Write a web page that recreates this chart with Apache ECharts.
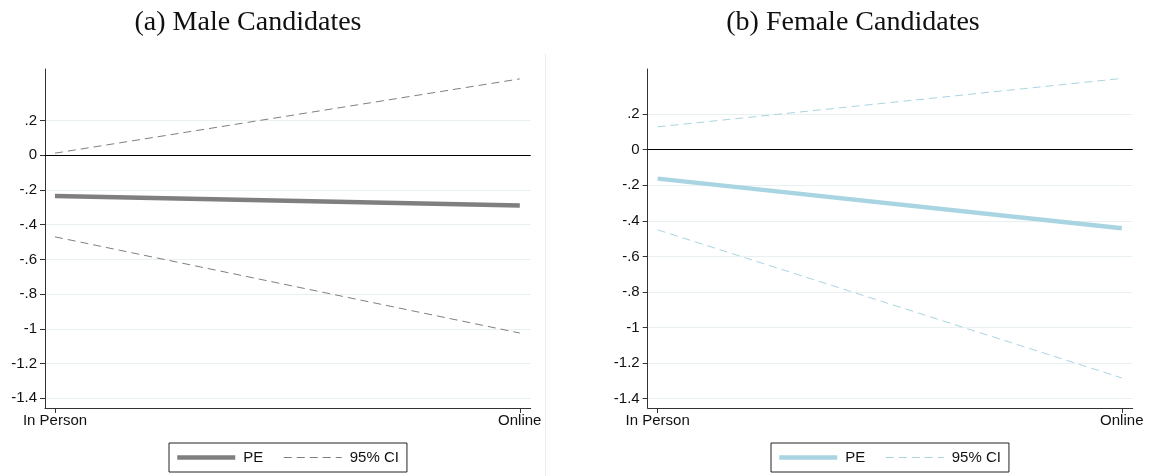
<!DOCTYPE html>
<html>
<head>
<meta charset="utf-8">
<script src="https://cdn.jsdelivr.net/npm/echarts@6/dist/echarts.min.js"></script>
<style>
html,body{margin:0;padding:0;background:#fff;}
#chart{width:1154px;height:476px;}
</style>
</head>
<body>
<div id="chart"></div>
<script>
// ---- data ----
const categories = ['In Person', 'Online'];
const yTicks = [0.2, 0, -0.2, -0.4, -0.6, -0.8, -1, -1.2, -1.4];
const panelTitles = ['(a) Male Candidates', '(b) Female Candidates'];

const malePE = [-0.235, -0.29];
const maleUpper = [0.012, 0.44];
const maleLower = [-0.47, -1.024];

const femalePE = [-0.163, -0.442];
const femaleUpper = [0.128, 0.40];
const femaleLower = [-0.451, -1.283];

// ---- styling ----
const grayCol = '#7f7f7f';
const blueCol = '#a8d5e1';
const tickFont = { fontFamily: 'Liberation Sans, Arial, sans-serif', fontSize: 15, color: '#111' };

function pts(arr) { return arr.map((v, i) => [i, v]); }
function yFmt(v) {
  const s = (Math.round(v * 10) / 10).toString();
  return s.replace(/^(-?)0\./, '$1.');
}

function xAxis(gi) {
  return {
    type: 'value', gridIndex: gi, min: -0.0215, max: 1.0235,
    axisLine: { show: true, onZero: false, lineStyle: { color: '#333', width: 1 } },
    axisTick: { show: true, length: 5, customValues: [0, 1], lineStyle: { color: '#333' } },
    axisLabel: { customValues: [0, 1], formatter: v => categories[Math.round(v)], margin: 5, ...tickFont },
    splitLine: { show: false }
  };
}
function yAxis(gi, min, max) {
  return {
    type: 'value', gridIndex: gi, min: min, max: max,
    axisLine: { show: true, onZero: false, lineStyle: { color: '#333', width: 1 } },
    axisTick: { show: true, length: 5, customValues: yTicks, lineStyle: { color: '#333' } },
    axisLabel: { customValues: yTicks, formatter: yFmt, margin: 8, ...tickFont },
    splitLine: { show: true, customValues: yTicks, lineStyle: { color: '#e9f0f2', width: 1 } }
  };
}

function panelSeries(gi, suffix, col, pe, up, lo) {
  return [
    {
      name: 'PE' + suffix, type: 'line', xAxisIndex: gi, yAxisIndex: gi,
      data: pts(pe), symbol: 'none', lineStyle: { color: col, width: 4.5 }, itemStyle: { color: col },
      z: 3,
      markLine: {
        silent: true, symbol: 'none', label: { show: false },
        lineStyle: { color: '#000', width: 1, type: 'solid' },
        data: [{ yAxis: 0 }]
      }
    },
    {
      name: '95% CI' + suffix, type: 'line', xAxisIndex: gi, yAxisIndex: gi,
      data: pts(up), symbol: 'none', lineStyle: { color: col, width: 1, type: [8, 5] }, itemStyle: { color: col }
    },
    {
      name: '95% CI' + suffix, type: 'line', xAxisIndex: gi, yAxisIndex: gi,
      data: pts(lo), symbol: 'none', lineStyle: { color: col, width: 1, type: [8, 5] }, itemStyle: { color: col }
    }
  ];
}

function legend(left, suffix) {
  return {
    left: left, top: 443, orient: 'horizontal',
    data: ['PE' + suffix, '95% CI' + suffix],
    formatter: n => n.replace('_b', ''),
    itemWidth: 58, itemHeight: 14, itemGap: 20,
    padding: [7, 8, 7, 6],
    borderColor: '#222', borderWidth: 1, borderRadius: 0,
    selectedMode: false,
    itemStyle: { opacity: 0 },
    lineStyle: { width: 'inherit', type: 'inherit' },
    textStyle: { fontFamily: 'Liberation Sans, Arial, sans-serif', fontSize: 15, color: '#111', padding: [0, 0, 0, 3] }
  };
}

const chart = echarts.init(document.getElementById('chart'), null, { renderer: 'canvas' });
chart.setOption({
  animation: false,
  backgroundColor: '#fff',
  title: [
    { text: panelTitles[0], left: 243, top: 4, textAlign: 'center',
      textStyle: { fontFamily: 'Liberation Serif, Times New Roman, serif', fontSize: 28, fontWeight: 'normal', color: '#111' } },
    { text: panelTitles[1], left: 848, top: 4, textAlign: 'center',
      textStyle: { fontFamily: 'Liberation Serif, Times New Roman, serif', fontSize: 28, fontWeight: 'normal', color: '#111' } }
  ],
  grid: [
    { left: 45, right: 623.3, top: 69, bottom: 68, containLabel: false },
    { left: 647.7, right: 21.3, top: 69, bottom: 68, containLabel: false }
  ],
  xAxis: [xAxis(0), xAxis(1)],
  yAxis: [yAxis(0, -1.456, 0.497), yAxis(1, -1.452, 0.453)],
  legend: [legend(169, ''), legend(771, '_b')],
  graphic: [
    { type: 'line', silent: true, shape: { x1: 545.5, y1: 54, x2: 545.5, y2: 476 }, style: { stroke: '#ececec', lineWidth: 1 } }
  ],
  series: [
    ...panelSeries(0, '', grayCol, malePE, maleUpper, maleLower),
    ...panelSeries(1, '_b', blueCol, femalePE, femaleUpper, femaleLower)
  ]
});
</script>
</body>
</html>
